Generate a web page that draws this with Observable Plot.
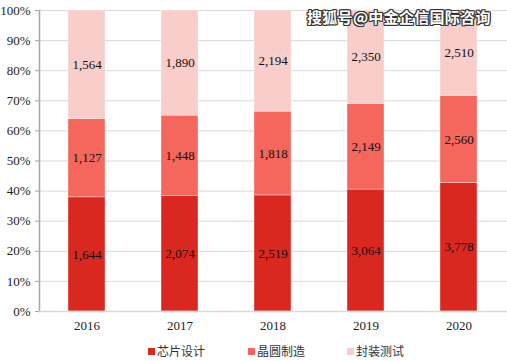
<!DOCTYPE html>
<html>
<head>
<meta charset="utf-8">
<script src="https://cdn.jsdelivr.net/npm/d3@7"></script>
<script src="https://cdn.jsdelivr.net/npm/@observablehq/plot@0.6"></script>
<style>
  html, body { margin: 0; padding: 0; background: #fff; }
  #wrap { position: relative; width: 507px; height: 361px; overflow: hidden; }
  #chart svg { display: block; }
  #legend { position: absolute; left: 0; top: 343px; width: 507px; height: 16px;
    font-family: "Noto Sans CJK SC", sans-serif; font-size: 12px; color: #333; }
  .li { position: absolute; top: 0; line-height: 16px; white-space: nowrap; }
  .sw { display: inline-block; width: 7px; height: 7px; margin-right: 2px; vertical-align: 1px; }
  #wm { position: absolute; left: 307px; top: 6px; font-family: "Noto Sans CJK SC", sans-serif;
    font-weight: 700; font-size: 15px; color: #fff; letter-spacing: 0.3px;
    text-shadow: -1px -1px 0 #333, 1px -1px 0 #333, -1px 1px 0 #333, 1px 1px 0 #333, 0 1px 0 #333, 0 -1px 0 #333, 1px 0 0 #333, -1px 0 0 #333; }
</style>
</head>
<body>
<div id="wrap">
  <div id="chart"></div>
  <div id="legend"></div>
  <div id="wm">搜狐号@中金企信国际咨询</div>
</div>
<script>
const years = ["2016", "2017", "2018", "2019", "2020"];
const seriesNames = ["芯片设计", "晶圆制造", "封装测试"];
const chipDesign = [1644, 2074, 2519, 3064, 3778];
const waferFab = [1127, 1448, 1818, 2149, 2560];
const packaging = [1564, 1890, 2194, 2350, 2510];
const colors = ["#da2820", "#f5665c", "#f9cdc9"];
const yTicks = [0, 0.1, 0.2, 0.3, 0.4, 0.5, 0.6, 0.7, 0.8, 0.9, 1];

const seriesValues = [chipDesign, waferFab, packaging];
const data = [];
seriesNames.forEach((s, si) => {
  years.forEach((y, yi) => data.push({year: y, series: s, value: seriesValues[si][yi]}));
});

const fmt = d3.format(",");
const serif = "'Liberation Serif', 'Times New Roman', serif";

const chart = Plot.plot({
  width: 507,
  height: 335,
  marginLeft: 39,
  marginRight: 0,
  marginTop: 10,
  marginBottom: 24,
  style: {fontFamily: serif, fontSize: "13px", color: "#222", background: "#fff"},
  x: {domain: years, paddingInner: 0.6, paddingOuter: 0.3, label: null},
  y: {domain: [0, 1], label: null},
  color: {domain: seriesNames, range: colors},
  marks: [
    Plot.gridY(yTicks, {stroke: "#d9d9d9", strokeOpacity: 1, strokeWidth: 1}),
    Plot.barY(data, Plot.stackY({offset: "normalize", order: seriesNames, x: "year", y: "value", z: "series", fill: "series", stroke: "#fff", strokeWidth: 0.6, strokeOpacity: 0.6})),
    Plot.text(data, Plot.stackY({offset: "normalize", order: seriesNames, x: "year", y: "value", z: "series", text: d => fmt(d.value), fill: "#111", fontSize: 13, fontFamily: serif})),
    Plot.axisY({ticks: yTicks, tickFormat: d3.format(".0%"), tickSize: 4, tickPadding: 5, stroke: "#a6a6a6", fill: "#222", fontSize: 13, label: null}),
    Plot.frame({anchor: "left", stroke: "#a6a6a6", strokeWidth: 1.5}),
    Plot.ruleY([0], {stroke: "#d9d9d9", strokeWidth: 1.5}),
    Plot.axisX({tickSize: 0, tickPadding: 9, fill: "#222", fontSize: 13, label: null})
  ]
});
document.getElementById("chart").appendChild(chart);

const legend = document.getElementById("legend");
const legendLeft = [148, 248, 347];
seriesNames.forEach((s, i) => {
  const d = document.createElement("div");
  d.className = "li";
  d.style.left = legendLeft[i] + "px";
  d.innerHTML = `<span class="sw" style="background:${colors[i]}"></span>${s}`;
  legend.appendChild(d);
});
</script>
</body>
</html>
